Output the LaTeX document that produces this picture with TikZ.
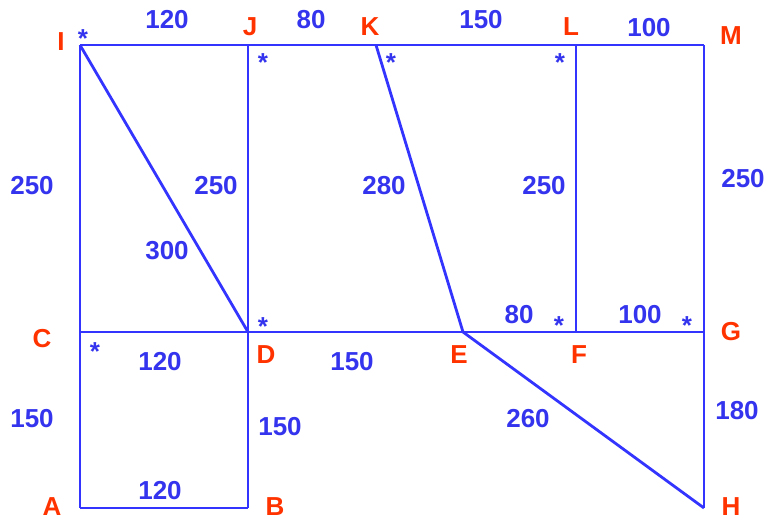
\documentclass[tikz,border=0pt]{standalone}
\usepackage{fontspec}
\setmainfont{Liberation Sans}
\definecolor{lineblue}{HTML}{3434FF}
\definecolor{numblue}{HTML}{3434EE}
\definecolor{letred}{HTML}{FF3300}
\begin{document}
\begin{tikzpicture}[x=1pt,y=-1pt,
  edge/.style={draw=lineblue,line width=2.8pt,line join=round},
  num/.style={text=numblue,font=\bfseries\fontsize{26}{26}\selectfont,inner sep=0pt},
  let/.style={text=letred,font=\bfseries\fontsize{26}{26}\selectfont,inner sep=0pt},
  ast/.style={text=numblue,font=\bfseries\fontsize{26}{26}\selectfont,inner sep=0pt}]
\useasboundingbox (0,0) rectangle (770,520);
% points
\coordinate (I) at (80,45);
\coordinate (J) at (248,45);
\coordinate (K) at (376,45);
\coordinate (L) at (576,45);
\coordinate (M) at (704,45);
\coordinate (C) at (80,332);
\coordinate (D) at (248,332);
\coordinate (E) at (463,332);
\coordinate (F) at (576,332);
\coordinate (G) at (704,332);
\coordinate (A) at (80,508);
\coordinate (B) at (248,508);
\coordinate (H) at (704,508);
% edges
\draw[edge] (I) -- (M);
\draw[edge] (C) -- (G);
\draw[edge] (A) -- (B);
\draw[edge] (I) -- (A);
\draw[edge] (J) -- (B);
\draw[edge] (L) -- (F);
\draw[edge] (M) -- (H);
\draw[edge] (I) -- (D);
\draw[edge] (K) -- (E);
\draw[edge] (E) -- (H);
% letters
\node[let] (lI) at (61,42) {I};
\node[let] (lJ) at (250,27) {J};
\node[let] (lK) at (370,27) {K};
\node[let] (lL) at (571,27) {L};
\node[let] (lM) at (731,36) {M};
\node[let] (lC) at (42,339) {C};
\node[let] (lD) at (266,355) {D};
\node[let] (lE) at (459,355) {E};
\node[let] (lF) at (579,355) {F};
\node[let] (lG) at (731,332) {G};
\node[let] (lA) at (52,507) {A};
\node[let] (lB) at (275,507) {B};
\node[let] (lH) at (731,507) {H};
% numbers
\node[num] (n1) at (167,20) {120};
\node[num] (n2) at (311,20) {80};
\node[num] (n3) at (481,20) {150};
\node[num] (n4) at (649,28) {100};
\node[num] (n5) at (32,186) {250};
\node[num] (n6) at (216,186) {250};
\node[num] (n7) at (167,251) {300};
\node[num] (n8) at (384,186) {280};
\node[num] (n9) at (544,186) {250};
\node[num] (n10) at (743,179) {250};
\node[num] (n11) at (160,362) {120};
\node[num] (n12) at (352,362) {150};
\node[num] (n13) at (519,315) {80};
\node[num] (n14) at (640,315) {100};
\node[num] (n15) at (32,419) {150};
\node[num] (n16) at (280,427) {150};
\node[num] (n17) at (528,419) {260};
\node[num] (n18) at (737,411) {180};
\node[num] (n19) at (160,491) {120};
% asterisks
\node[ast] (a1) at (83,39) {*};
\node[ast] (a2) at (263,63) {*};
\node[ast] (a3) at (391,63) {*};
\node[ast] (a4) at (560,63) {*};
\node[ast] (a5) at (95,352) {*};
\node[ast] (a6) at (263,327) {*};
\node[ast] (a7) at (559,326) {*};
\node[ast] (a8) at (687,326) {*};
\end{tikzpicture}
\end{document}
